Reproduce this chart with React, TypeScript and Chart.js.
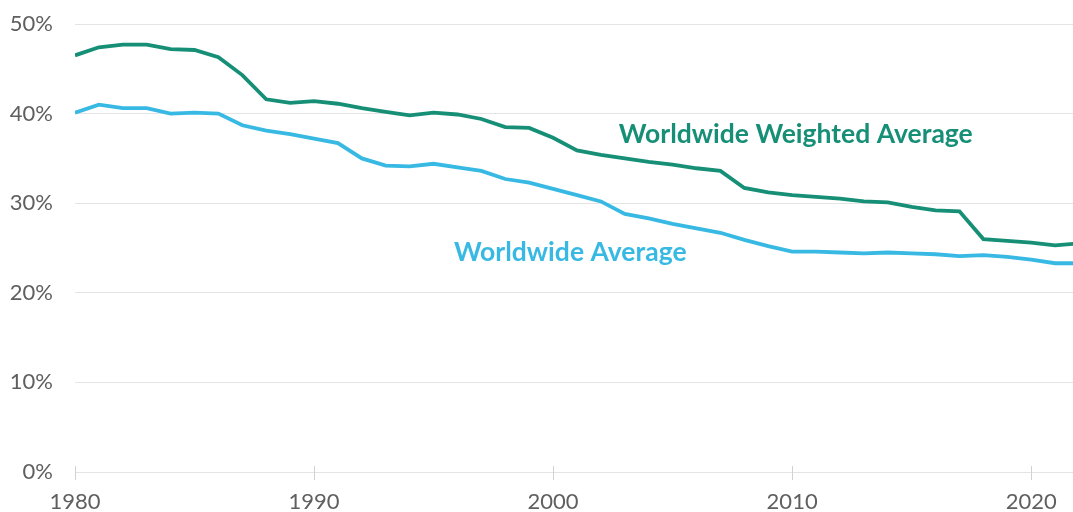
import React, { useEffect, useRef } from "react";
import { Chart, registerables } from "chart.js";

Chart.register(...registerables);

const years = [
  1980, 1981, 1982, 1983, 1984, 1985, 1986, 1987, 1988, 1989,
  1990, 1991, 1992, 1993, 1994, 1995, 1996, 1997, 1998, 1999,
  2000, 2001, 2002, 2003, 2004, 2005, 2006, 2007, 2008, 2009,
  2010, 2011, 2012, 2013, 2014, 2015, 2016, 2017, 2018, 2019,
  2020, 2021, 2022,
];

const weightedAverage = [
  46.5, 47.4, 47.7, 47.7, 47.2, 47.1, 46.3, 44.3, 41.6, 41.2,
  41.4, 41.1, 40.6, 40.2, 39.8, 40.1, 39.9, 39.4, 38.5, 38.4,
  37.3, 35.9, 35.4, 35.0, 34.6, 34.3, 33.9, 33.6, 31.7, 31.2,
  30.9, 30.7, 30.5, 30.2, 30.1, 29.6, 29.2, 29.1, 26.0, 25.8,
  25.6, 25.3, 25.5,
];

const simpleAverage = [
  40.1, 41.0, 40.6, 40.6, 40.0, 40.1, 40.0, 38.7, 38.1, 37.7,
  37.2, 36.7, 35.0, 34.2, 34.1, 34.4, 34.0, 33.6, 32.7, 32.3,
  31.6, 30.9, 30.2, 28.8, 28.3, 27.7, 27.2, 26.7, 25.9, 25.2,
  24.6, 24.6, 24.5, 24.4, 24.5, 24.4, 24.3, 24.1, 24.2, 24.0,
  23.7, 23.3, 23.3,
];

const xTicks = [1980, 1990, 2000, 2010, 2020];
const yTicks = [0, 10, 20, 30, 40, 50];

const seriesNames = ["Worldwide Weighted Average", "Worldwide Average"];
// label anchors in data coordinates [year, percent]
const labelAnchors = [
  [2002.75, 37.7],
  [1995.85, 24.55],
];

const GREEN = "#168f76";
const BLUE = "#38b9e3";

export default function App() {
  const ref = useRef<HTMLCanvasElement | null>(null);

  useEffect(() => {
    if (!ref.current) return;

    const labelPlugin = {
      id: "seriesLabels",
      afterDatasetsDraw(chart: any) {
        const { ctx, scales } = chart;
        const colors = [GREEN, BLUE];
        ctx.save();
        ctx.font = "bold 26.5px Lato";
        ctx.textAlign = "left";
        ctx.textBaseline = "middle";
        seriesNames.forEach((name, i) => {
          const [ax, ay] = labelAnchors[i];
          ctx.fillStyle = colors[i];
          ctx.fillText(name, scales.x.getPixelForValue(ax), scales.y.getPixelForValue(ay));
        });
        ctx.restore();
      },
    };

    const tickPlugin = {
      id: "xTickMarks",
      afterDraw(chart: any) {
        const { ctx, scales } = chart;
        const y0 = scales.y.getPixelForValue(0);
        ctx.save();
        ctx.strokeStyle = "#d2d2d2";
        ctx.lineWidth = 1;
        xTicks.forEach((t) => {
          const x = Math.round(scales.x.getPixelForValue(t)) + 0.5;
          ctx.beginPath();
          ctx.moveTo(x, y0 - 6);
          ctx.lineTo(x, y0 + 8);
          ctx.stroke();
        });
        ctx.restore();
      },
    };

    const chart = new Chart(ref.current, {
      type: "line",
      data: {
        datasets: [
          {
            label: seriesNames[0],
            data: years.map((y, i) => ({ x: y, y: weightedAverage[i] })),
            borderColor: GREEN,
            borderWidth: 3.8,
            pointRadius: 0,
            tension: 0,
          },
          {
            label: seriesNames[1],
            data: years.map((y, i) => ({ x: y, y: simpleAverage[i] })),
            borderColor: BLUE,
            borderWidth: 3.8,
            pointRadius: 0,
            tension: 0,
          },
        ],
      },
      options: {
        animation: false,
        responsive: true,
        maintainAspectRatio: false,
        layout: { padding: { top: 24, left: 0, right: 0, bottom: 0 } },
        plugins: {
          legend: { display: false },
          tooltip: { enabled: false },
        },
        scales: {
          x: {
            type: "linear",
            min: 1980,
            max: 2021.75,
            afterBuildTicks: (scale: any) => {
              scale.ticks = xTicks.map((v) => ({ value: v }));
            },
            afterFit: (scale: any) => {
              scale.height = 40;
              scale.paddingLeft = 0;
              scale.paddingRight = 0;
            },
            ticks: {
              callback: (v: any) => String(v),
              color: "#5f5f5f",
              font: { family: "Lato", size: 22 },
              padding: 17,
              maxRotation: 0,
              autoSkip: false,
            },
            grid: { display: false, drawTicks: false },
            border: { display: false },
          },
          y: {
            min: 0,
            max: 50,
            afterBuildTicks: (scale: any) => {
              scale.ticks = yTicks.map((v) => ({ value: v }));
            },
            afterFit: (scale: any) => {
              scale.width = 75;
              scale.paddingTop = 0;
              scale.paddingBottom = 0;
            },
            ticks: {
              callback: (v: any) => v + "%",
              color: "#5f5f5f",
              font: { family: "Lato", size: 22 },
              padding: 22,
            },
            grid: { color: "#e4e4e4", lineWidth: 1, drawTicks: false },
            border: { display: false },
          },
        },
      },
      plugins: [labelPlugin, tickPlugin],
    } as any);

    return () => chart.destroy();
  }, []);

  return (
    <div style={{ position: "absolute", left: 0, top: 0, width: 1073, height: 512, background: "#fff" }}>
      <canvas ref={ref} />
    </div>
  );
}
